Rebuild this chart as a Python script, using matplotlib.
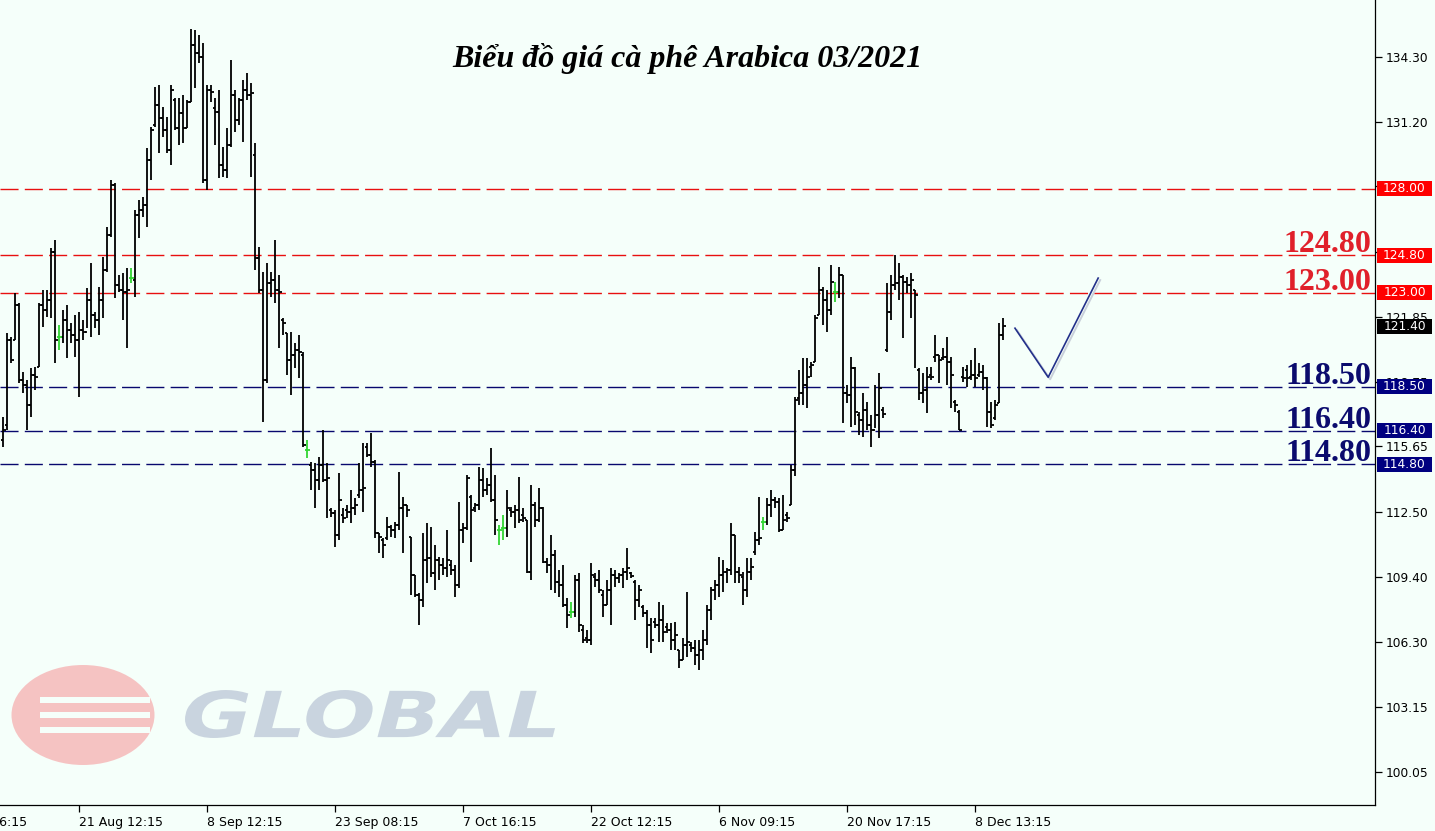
import matplotlib
matplotlib.use('Agg')
import matplotlib.pyplot as plt
import matplotlib.transforms as mtransforms
from matplotlib.patches import Rectangle, Ellipse, PathPatch
from matplotlib.textpath import TextPath
from matplotlib.font_manager import FontProperties
import numpy as np

# ---------------- data ----------------
high = [117.05, 121.08, 120.88, 122.99, 122.52, 119.20, 118.82, 119.40, 119.44, 122.52,
        123.13, 123.13, 125.15, 125.53, 121.46, 122.18, 122.42, 121.56, 121.94, 122.08,
        121.70, 123.23, 124.43, 122.08, 123.28, 124.71, 126.15, 128.40, 128.26, 123.85,
        123.95, 124.19, 124.19, 126.97, 127.45, 127.59, 129.93, 130.94, 132.85, 132.95,
        131.90, 131.42, 132.95, 132.33, 132.33, 132.47, 132.24, 135.64, 135.59, 135.35,
        134.97, 132.95, 132.95, 132.33, 132.71, 129.98, 130.90, 134.15, 132.71, 132.33,
        133.19, 133.53, 133.05, 130.18, 125.19, 123.99, 124.43, 123.99, 125.53, 123.85,
        121.80, 121.08, 121.12, 120.60, 120.98, 120.16, 115.95, 114.89, 114.85, 115.13,
        116.43, 114.85, 112.70, 112.60, 114.37, 112.70, 112.84, 113.55, 113.17, 114.85,
        115.81, 115.81, 116.29, 114.99, 111.50, 111.26, 112.26, 111.88, 112.02, 114.41,
        113.22, 112.84, 111.30, 109.49, 108.62, 111.50, 111.98, 111.78, 110.92, 110.34,
        110.30, 111.64, 110.20, 109.96, 112.98, 111.98, 114.27, 113.31, 112.94, 114.66,
        114.61, 114.13, 115.57, 114.27, 111.88, 112.36, 113.55, 112.74, 112.84, 114.18,
        112.70, 112.12, 113.79, 112.98, 113.65, 112.74, 110.30, 111.40, 110.68, 109.73,
        109.97, 108.38, 108.19, 109.49, 109.58, 107.09, 106.85, 110.06, 109.58, 109.73,
        108.77, 109.25, 109.82, 109.73, 109.58, 109.82, 110.78, 109.63, 109.25, 109.01,
        108.05, 107.81, 107.42, 107.42, 108.19, 108.05, 107.18, 107.18, 107.23, 105.89,
        106.47, 108.67, 106.27, 106.37, 106.37, 106.85, 108.05, 108.91, 109.25, 110.34,
        110.20, 109.82, 111.98, 111.40, 109.87, 109.63, 110.30, 110.30, 111.54, 113.22,
        112.26, 113.17, 113.55, 113.22, 113.17, 113.31, 112.50, 114.75, 118.01, 119.30,
        119.88, 119.88, 119.68, 121.94, 124.23, 123.28, 123.13, 124.33, 123.51, 124.23,
        123.85, 118.58, 119.92, 119.44, 117.29, 118.20, 117.77, 117.15, 118.58, 119.16,
        117.53, 123.47, 123.85, 124.81, 124.43, 123.85, 123.75, 123.95, 123.13, 119.40,
        119.16, 119.44, 119.44, 120.98, 120.02, 120.36, 120.88, 119.92, 117.87, 117.39,
        119.44, 119.54, 119.78, 120.36, 119.64, 119.54, 118.96, 117.77, 117.87, 121.56,
        121.80]

low = [115.61, 116.43, 119.64, 120.74, 118.68, 118.20, 116.43, 117.05, 118.34, 119.44,
       121.36, 121.84, 121.80, 119.64, 120.26, 120.60, 119.88, 120.60, 119.92, 118.00,
       120.74, 121.32, 120.88, 121.32, 120.98, 121.80, 123.99, 125.67, 122.75, 123.03,
       121.70, 120.36, 123.47, 122.80, 125.62, 126.63, 126.15, 128.40, 130.94, 129.70,
       130.46, 129.70, 129.12, 130.80, 130.08, 130.18, 130.90, 132.14, 132.81, 134.01,
       128.26, 127.92, 132.14, 130.08, 128.49, 128.54, 128.49, 129.98, 130.70, 131.04,
       130.22, 132.24, 128.54, 124.09, 122.99, 116.81, 118.68, 122.80, 122.52, 120.36,
       120.98, 119.06, 118.10, 119.40, 118.92, 115.61, 115.09, 113.55, 112.70, 113.55,
       113.94, 112.22, 112.26, 110.82, 111.16, 111.98, 112.22, 111.98, 112.36, 113.17,
       112.50, 115.13, 114.66, 111.26, 110.54, 110.30, 111.16, 111.30, 111.26, 111.64,
       110.54, 112.26, 108.53, 108.43, 107.09, 107.95, 109.10, 109.39, 108.77, 109.25,
       109.49, 109.39, 109.49, 108.43, 108.86, 111.02, 111.64, 110.10, 112.50, 112.60,
       113.22, 113.31, 112.98, 111.40, 110.92, 111.16, 111.30, 112.26, 111.74, 111.98,
       112.02, 109.58, 109.25, 111.78, 112.02, 110.06, 109.58, 108.77, 108.62, 108.43,
       107.95, 106.94, 107.43, 107.47, 106.75, 106.23, 106.23, 106.13, 108.91, 108.62,
       107.47, 108.05, 107.09, 108.91, 109.10, 108.86, 109.25, 109.34, 107.33, 107.95,
       107.47, 105.99, 105.75, 106.94, 106.27, 106.27, 106.70, 105.89, 105.89, 105.03,
       105.41, 105.56, 105.79, 105.17, 104.93, 105.41, 106.13, 107.33, 108.29, 108.43,
       108.67, 109.10, 109.49, 109.10, 109.10, 108.05, 108.43, 109.25, 110.44, 110.92,
       111.64, 111.88, 112.26, 112.70, 111.54, 111.64, 112.02, 112.84, 114.22, 117.63,
       117.63, 117.49, 118.96, 119.68, 121.94, 121.46, 121.12, 121.94, 122.56, 122.75,
       116.77, 117.73, 116.57, 116.67, 116.19, 116.09, 116.43, 115.61, 116.53, 116.05,
       117.01, 120.16, 121.70, 123.13, 122.66, 120.84, 122.99, 121.80, 119.40, 117.87,
       117.73, 117.25, 118.82, 119.68, 118.68, 119.78, 118.58, 117.49, 117.29, 116.43,
       118.73, 118.49, 118.82, 118.49, 118.96, 118.34, 116.57, 116.53, 116.91, 117.73,
       120.74]

open_ = [115.95, 116.67, 120.74, 120.74, 122.42, 118.82, 118.58, 117.63, 119.06, 119.44,
         122.42, 122.18, 122.66, 124.95, 120.88, 120.88, 121.70, 121.22, 120.98, 120.74,
         121.22, 121.12, 122.66, 121.94, 121.70, 122.66, 124.09, 125.77, 128.16, 123.37,
         123.13, 123.03, 123.71, 123.61, 126.73, 126.97, 127.21, 129.36, 131.04, 132.00,
         131.38, 130.80, 129.84, 132.24, 130.90, 131.62, 130.90, 132.14, 134.87, 134.49,
         134.29, 128.40, 132.71, 131.86, 131.66, 129.12, 128.88, 130.08, 132.47, 131.28,
         132.24, 132.71, 132.47, 129.60, 124.67, 123.13, 118.82, 123.47, 123.61, 123.13,
         121.70, 121.08, 119.78, 120.02, 120.26, 120.02, 115.47, 114.75, 114.51, 114.03,
         114.75, 114.03, 112.60, 112.46, 111.40, 112.36, 112.60, 112.50, 112.70, 113.31,
         113.55, 115.61, 115.23, 114.89, 111.50, 111.16, 111.26, 111.78, 111.64, 111.88,
         112.70, 112.84, 111.30, 109.49, 108.53, 108.29, 110.20, 110.30, 109.58, 110.20,
         109.96, 109.82, 109.96, 109.72, 109.01, 111.64, 111.74, 113.22, 112.70, 112.84,
         114.03, 113.55, 113.79, 113.08, 111.64, 111.74, 111.74, 112.60, 112.50, 112.60,
         112.36, 112.12, 109.63, 112.84, 112.12, 112.70, 110.10, 109.96, 110.44, 109.15,
         109.01, 108.05, 107.71, 107.71, 109.25, 106.85, 106.47, 106.37, 109.39, 109.25,
         108.53, 108.05, 108.77, 109.49, 109.34, 109.49, 109.63, 109.58, 109.15, 108.29,
         107.95, 107.66, 107.09, 107.23, 107.09, 107.33, 106.99, 106.85, 106.37, 105.89,
         105.41, 106.13, 106.13, 105.99, 105.65, 105.89, 106.37, 107.81, 108.77, 109.01,
         109.49, 109.63, 109.73, 111.40, 109.63, 109.39, 108.77, 109.63, 110.58, 111.16,
         112.02, 112.02, 112.84, 113.08, 112.98, 111.64, 112.36, 112.84, 114.51, 117.97,
         118.20, 118.58, 119.44, 119.68, 121.94, 123.13, 122.66, 122.18, 123.03, 123.03,
         123.85, 118.20, 118.10, 119.40, 117.15, 116.91, 117.39, 116.67, 116.43, 117.15,
         117.39, 120.26, 122.08, 123.37, 123.47, 123.75, 123.51, 123.37, 123.13, 119.30,
         118.20, 118.34, 119.06, 119.92, 120.02, 119.88, 119.92, 119.68, 117.77, 117.29,
         118.96, 119.30, 118.96, 119.06, 119.06, 119.20, 118.92, 117.29, 117.01, 117.73,
         120.98]

close = [116.43, 120.74, 119.78, 122.42, 118.82, 118.58, 117.63, 119.06, 118.96, 122.42,
         122.18, 122.66, 124.95, 120.74, 120.88, 121.70, 121.22, 120.98, 120.74, 121.22,
         121.12, 122.66, 121.94, 121.70, 122.66, 124.09, 125.77, 128.16, 123.37, 123.13,
         123.03, 123.13, 123.71, 126.73, 126.97, 127.21, 129.36, 130.80, 132.00, 131.38,
         130.80, 129.84, 132.71, 130.90, 131.62, 130.90, 132.14, 134.87, 134.49, 134.29,
         128.40, 132.71, 132.62, 131.66, 129.12, 128.88, 130.08, 132.47, 131.28, 132.24,
         132.71, 132.47, 132.57, 124.67, 123.13, 118.82, 123.47, 123.61, 123.13, 123.03,
         121.56, 119.78, 120.02, 120.26, 120.16, 115.71, 115.47, 114.51, 114.03, 114.75,
         114.03, 114.13, 112.46, 111.40, 113.08, 112.22, 112.50, 112.70, 112.84, 113.55,
         113.65, 115.23, 114.89, 111.50, 111.30, 110.92, 111.78, 111.64, 111.88, 112.70,
         112.84, 112.60, 109.49, 108.53, 108.29, 110.20, 110.30, 109.58, 110.20, 109.96,
         109.82, 110.20, 109.72, 109.01, 111.64, 111.74, 114.13, 112.60, 112.84, 114.03,
         113.55, 113.79, 113.08, 112.12, 111.64, 111.74, 112.70, 112.50, 112.60, 112.12,
         112.22, 109.63, 112.84, 112.12, 112.70, 110.10, 109.96, 110.44, 109.15, 109.01,
         108.05, 107.57, 107.71, 109.25, 107.09, 106.37, 106.37, 109.49, 109.25, 108.77,
         108.05, 108.77, 109.49, 109.34, 109.49, 109.63, 109.82, 109.44, 108.29, 108.77,
         107.66, 107.09, 106.37, 107.09, 107.33, 106.75, 106.85, 106.37, 106.61, 105.41,
         106.13, 106.27, 105.99, 105.65, 105.89, 106.37, 107.81, 108.77, 109.01, 109.49,
         109.63, 109.73, 111.40, 109.63, 109.49, 108.77, 109.63, 109.87, 111.16, 111.26,
         112.02, 112.84, 113.08, 112.98, 111.64, 112.12, 112.22, 114.51, 117.87, 118.20,
         118.58, 118.96, 119.54, 121.80, 123.13, 122.66, 122.18, 123.51, 123.03, 123.85,
         118.20, 118.10, 119.40, 117.29, 116.91, 117.39, 116.67, 116.43, 117.15, 118.44,
         117.20, 122.08, 123.37, 123.47, 123.75, 123.51, 123.37, 123.61, 122.90, 118.20,
         118.34, 118.96, 118.96, 120.02, 119.78, 119.92, 119.68, 119.06, 117.63, 116.43,
         118.92, 118.92, 119.06, 118.92, 119.20, 118.92, 117.29, 116.67, 117.63, 120.98,
         121.40]

x_tick_pos = [19, 51, 83, 115, 147, 179, 211, 243]
x_tick_labels = ['21 Aug 12:15', '8 Sep 12:15', '23 Sep 08:15', '7 Oct 16:15',
                 '22 Oct 12:15', '6 Nov 09:15', '20 Nov 17:15', '8 Dec 13:15']
x_first_pos = -13
x_first_label = '6 Aug 16:15'

y_ticks = [100.05, 103.15, 106.30, 109.40, 112.50, 115.65, 118.75, 121.85,
           124.95, 128.10, 131.20, 134.30]

res_levels = [128.00, 124.80, 123.00]
sup_levels = [118.50, 116.40, 114.80]
big_res_labels = [124.80, 123.00]
big_sup_labels = [118.50, 116.40, 114.80]
last_price = 121.40

check_x = [252.9, 261.2, 273.7]
check_y = [121.31, 118.96, 123.71]

title = 'Biểu đồ giá cà phê Arabica 03/2021'

# ---------------- figure ----------------
W, H = 1435, 831
BG = '#F5FFFA'
fig = plt.figure(figsize=(W / 100, H / 100), dpi=100, facecolor=BG)
ax_r = 1375 / W
ax_b = 26 / H
ax = fig.add_axes([0, ax_b, ax_r, 1 - ax_b])
ax.set_facecolor(BG)

n = len(high)
x = np.arange(n)
o = np.array(open_); c = np.array(close)
cols = np.where(np.isclose(o, c), '#33D633', 'black')

BLW = 1.3
ax.vlines(x, low, high, colors=cols, lw=BLW, zorder=3)
ax.hlines(open_, x - 0.55, x, colors=cols, lw=BLW, zorder=3)
ax.hlines(close, x, x + 0.55, colors=cols, lw=BLW, zorder=3)

ax.set_xlim(-0.825, 342.9)
ax.set_ylim(98.47, 137.03)

# level lines
for lv in res_levels:
    ax.axhline(lv, color='#E81010', lw=1.0, ls=(0, (13, 4.5)), zorder=2)
for lv in sup_levels:
    ax.axhline(lv, color='#08086E', lw=1.0, ls=(0, (13, 4.5)), zorder=2)

# axes styling
for s in ['left', 'top']:
    ax.spines[s].set_visible(False)
for s in ['bottom', 'right']:
    ax.spines[s].set_color('black')
    ax.spines[s].set_linewidth(0.9)
ax.yaxis.tick_right()
ax.set_yticks(y_ticks)
ax.set_yticklabels([f'{v:.2f}' for v in y_ticks])
ax.tick_params(axis='y', direction='out', length=5, width=0.9, pad=3,
               labelsize=8.8, colors='black')
ax.set_xticks(x_tick_pos)
ax.set_xticklabels(x_tick_labels, ha='left')
ax.tick_params(axis='x', direction='out', length=5, width=0.9, pad=3,
               labelsize=9.0, colors='black')
ax.text(x_first_pos, -0.0137, x_first_label, transform=ax.get_xaxis_transform(),
        ha='left', va='top', fontsize=9.0, clip_on=False)

# right-axis price boxes
trans = mtransforms.blended_transform_factory(ax.transAxes, ax.transData)
box_h = 15 / 20.876
box_x0 = 1377 / 1375
box_w = 55 / 1375


def price_box(lv, fc):
    ax.add_patch(Rectangle((box_x0, lv - box_h / 2), box_w, box_h, transform=trans,
                           fc=fc, ec='none', clip_on=False, zorder=6))
    ax.text(box_x0 + box_w / 2, lv, f'{lv:.2f}', transform=trans, ha='center',
            va='center', color='white', fontsize=8.8, clip_on=False, zorder=7)


for lv in res_levels:
    price_box(lv, '#FF0000')
for lv in sup_levels:
    price_box(lv, '#000080')
price_box(last_price, '#000000')

# big level labels
big_tr = mtransforms.offset_copy(trans, fig=fig, x=0, y=3, units='dots')
big_font = dict(family=['Liberation Serif', 'DejaVu Serif'], weight='bold', fontsize=23)
for lv in big_res_labels:
    ax.text(1371 / 1375, lv, f'{lv:.2f}', transform=big_tr, ha='right', va='baseline',
            color='#E0202A', zorder=5, **big_font)
for lv in big_sup_labels:
    ax.text(1371 / 1375, lv, f'{lv:.2f}', transform=big_tr, ha='right', va='baseline',
            color='#0B0B6E', zorder=5, **big_font)

# check mark
sh = mtransforms.offset_copy(ax.transData, fig=fig, x=2, y=-2, units='dots')
ax.plot(check_x, check_y, color='#C9D0DA', lw=1.4, transform=sh, zorder=4)
ax.plot(check_x, check_y, color='#23308A', lw=1.2, zorder=5)

# title
fig.text(687.5 / W, 1 - 67 / H, title, ha='center', va='baseline',
         fontsize=23, weight='bold', style='italic',
         family=['Liberation Serif', 'DejaVu Serif'], color='black')

# watermark logo
def px2fig(px, py):
    return px / W, 1 - py / H

ex, ey = px2fig(83, 715)
fig.patches.append(Ellipse((ex, ey), 143 / W, 100 / H, transform=fig.transFigure,
                           fc='#F6B9B9', ec='none', alpha=0.85, zorder=1))
for yy in [700, 715, 730]:
    bx, by = px2fig(40, yy + 3)
    fig.patches.append(Rectangle((bx, by), 110 / W, 6 / H, transform=fig.transFigure,
                                 fc=BG, ec='none', zorder=1.1))

fp = FontProperties(family='DejaVu Sans', weight='bold', style='italic')
tp = TextPath((0, 0), 'GLOBAL', size=50, prop=fp)
bb = tp.get_extents()
x0f, y0f = px2fig(185, 738)
sx = (370 / W) / bb.width
sy = (48 / H) / bb.height
tr = mtransforms.Affine2D().translate(-bb.x0, -bb.y0).scale(sx, sy).translate(x0f, y0f)
fig.patches.append(PathPatch(tr.transform_path(tp), transform=fig.transFigure,
                             fc='#C5D0DC', ec='none', alpha=0.9, zorder=1))

fig.savefig('out.png', dpi=100, facecolor=BG)
